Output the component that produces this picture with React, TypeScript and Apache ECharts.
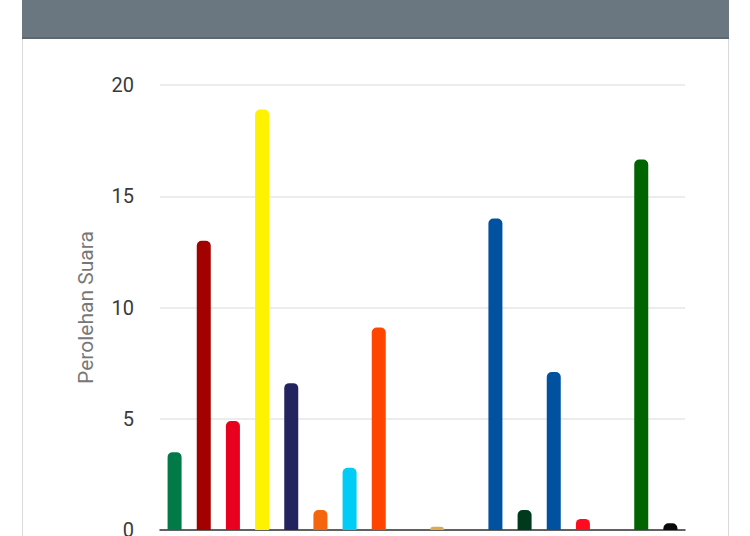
import React, { useEffect, useRef } from "react";
import * as echarts from "echarts";

const categories = [
  "PKB", "Gerindra", "PDIP", "Golkar", "NasDem", "Partai Buruh", "Gelora", "PKS", "PKN",
  "Hanura", "Garuda", "PAN", "PBB", "Demokrat", "PSI", "Perindo", "PPP", "Ummat",
];
const values = [3.5, 13, 4.9, 18.9, 6.6, 0.9, 2.8, 9.1, 0, 0.15, 0, 14, 0.9, 7.1, 0.5, 0, 16.65, 0.3];
const colors = [
  "#027a48", "#a30000", "#e8001e", "#fff200", "#23235e", "#f5650e", "#00ccf5", "#ff4500", "#888888",
  "#e0a84a", "#999999", "#0052a0", "#003a1c", "#0052a0", "#ff0a1e", "#1f3f9f", "#006400", "#0a0a0a",
];
const yTicks = { min: 0, max: 20, interval: 5 };
const yName = "Perolehan Suara";

export default function App() {
  const ref = useRef<HTMLDivElement>(null);
  useEffect(() => {
    if (!ref.current) return;
    const chart = echarts.init(ref.current, undefined, { renderer: "svg" });
    chart.setOption({
      animation: false,
      grid: { left: 160, right: 65, top: 85, bottom: 5.5 },
      xAxis: {
        type: "category",
        data: categories,
        axisLine: { show: true, lineStyle: { color: "#333333", width: 1.5 } },
        axisTick: { show: false },
        axisLabel: { show: false },
      },
      yAxis: {
        type: "value",
        min: yTicks.min,
        max: yTicks.max,
        interval: yTicks.interval,
        name: yName,
        nameLocation: "middle",
        nameRotate: 90,
        nameGap: 64,
        nameTextStyle: { fontFamily: "Roboto", fontSize: 21, color: "#777777" },
        axisLine: { show: false },
        axisTick: { show: false },
        axisLabel: { fontFamily: "Roboto", fontSize: 20, color: "#3a3a3a", margin: 26 },
        splitLine: { lineStyle: { color: "#e6e6e6", width: 1.5 } },
      },
      series: [
        {
          type: "bar",
          barWidth: 14,
          data: values.map((v, i) => ({
            value: v,
            itemStyle: { color: colors[i], borderRadius: [5, 5, 0, 0] },
          })),
        },
      ],
    });
    return () => chart.dispose();
  }, []);

  return (
    <div style={{ position: "fixed", left: 0, top: 0, width: 750, height: 536, background: "#ffffff", overflow: "hidden" }}>
      <div
        style={{
          position: "absolute",
          left: 22,
          top: 0,
          width: 705,
          height: 600,
          borderLeft: "1px solid #d9d9d9",
          borderRight: "1px solid #d9d9d9",
        }}
      />
      <div
        style={{
          position: "absolute",
          left: 22,
          top: 0,
          width: 707,
          height: 37,
          background: "#6b7780",
          borderBottom: "2px solid #5d676f",
        }}
      />
      <div ref={ref} style={{ position: "absolute", left: 0, top: 0, width: 750, height: 540 }} />
    </div>
  );
}
